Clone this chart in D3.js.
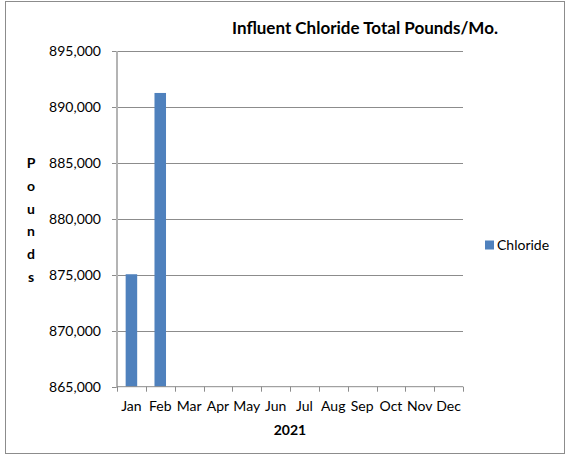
<!DOCTYPE html>
<html>
<head>
<meta charset="utf-8">
<script src="https://cdn.jsdelivr.net/npm/d3@7"></script>
<style>
  body { margin: 0; background: #fff; }
  svg text { font-family: Lato, "Open Sans", sans-serif; fill: #000; }
</style>
</head>
<body>
<div id="chart"></div>
<script>
const months = ['Jan', 'Feb', 'Mar', 'Apr', 'May', 'Jun', 'Jul', 'Aug', 'Sep', 'Oct', 'Nov', 'Dec'];
const chloride = [875050, 891250, null, null, null, null, null, null, null, null, null, null];
const yTicks = [865000, 870000, 875000, 880000, 885000, 890000, 895000];
const title = 'Influent Chloride Total Pounds/Mo.';
const xTitle = '2021';
const yTitle = 'Pounds';
const seriesName = 'Chloride';

const w = 586, h = 455;
const pl = 117, pr = 463, pt = 51, pb = 386.7;

const svg = d3.select('#chart').append('svg')
  .attr('width', w)
  .attr('height', h);

// outer border
svg.append('rect')
  .attr('x', 5.5).attr('y', 1.5)
  .attr('width', 559).attr('height', 452)
  .attr('fill', 'none')
  .attr('stroke', '#8c8c8c')
  .attr('stroke-width', 1);

const x = d3.scaleBand()
  .domain(months)
  .range([pl, pr])
  .paddingInner(0.6)
  .paddingOuter(0.3);

const xTicksScale = d3.scaleBand().domain(months).range([pl, pr]);

const y = d3.scaleLinear()
  .domain([865000, 895000])
  .range([pb, pt]);

// gridlines
svg.append('g')
  .selectAll('line')
  .data(yTicks.slice(1))
  .enter()
  .append('line')
  .attr('x1', pl).attr('x2', pr)
  .attr('y1', d => Math.round(y(d)) + 0.5)
  .attr('y2', d => Math.round(y(d)) + 0.5)
  .attr('stroke', '#8c8c8c');

// bars
svg.append('g')
  .selectAll('rect')
  .data(months.map((m, i) => ({ m: m, v: chloride[i] })).filter(d => d.v != null))
  .enter()
  .append('rect')
  .attr('x', d => x(d.m))
  .attr('width', x.bandwidth())
  .attr('y', d => y(d.v))
  .attr('height', d => pb - y(d.v))
  .attr('fill', '#4f81bd');

// y axis
const yA = d3.axisLeft(y)
  .tickValues(yTicks)
  .tickSize(5)
  .tickPadding(11)
  .tickFormat(d3.format(','));

const yG = svg.append('g')
  .attr('transform', 'translate(' + pl + ',0)')
  .call(yA);
yG.select('.domain').remove();
yG.selectAll('.tick line').attr('stroke', '#8c8c8c');
yG.selectAll('.tick').attr('transform', d => 'translate(0,' + (Math.round(y(d)) + 0.5) + ')');
yG.selectAll('text').style('font-size', '14px').style('font-family', 'Lato, sans-serif');
yG.append('line')
  .attr('x1', 0).attr('x2', 0)
  .attr('y1', pt).attr('y2', pb + 1)
  .attr('stroke', '#b4b4b4')
  .attr('stroke-width', 2);

// x axis
const xA = d3.axisBottom(xTicksScale)
  .tickSize(0)
  .tickPadding(14);

const xG = svg.append('g')
  .attr('transform', 'translate(0,' + pb + ')')
  .call(xA);
xG.select('.domain').remove();
xG.selectAll('text').style('font-size', '14px').style('font-family', 'Lato, sans-serif');
xG.append('line')
  .attr('x1', pl).attr('x2', pr)
  .attr('y1', 0).attr('y2', 0)
  .attr('stroke', '#8c8c8c');
xG.selectAll('.sep')
  .data(months.concat(['end']))
  .enter()
  .append('line')
  .attr('class', 'sep')
  .attr('x1', (d, i) => Math.round(pl + i * xTicksScale.step()) + 0.5)
  .attr('x2', (d, i) => Math.round(pl + i * xTicksScale.step()) + 0.5)
  .attr('y1', 0).attr('y2', 5)
  .attr('stroke', '#8c8c8c');

// title
svg.append('text')
  .attr('x', 365).attr('y', 34)
  .attr('text-anchor', 'middle')
  .style('font-size', '17px')
  .style('font-weight', 'bold')
  .text(title);

// x title
svg.append('text')
  .attr('x', 290).attr('y', 435)
  .attr('text-anchor', 'middle')
  .style('font-size', '14px')
  .style('font-weight', 'bold')
  .text(xTitle);

// y title, stacked letters
svg.append('g')
  .selectAll('text')
  .data(yTitle.split(''))
  .enter()
  .append('text')
  .attr('x', 31)
  .attr('y', (d, i) => 168 + i * 22.8)
  .attr('text-anchor', 'middle')
  .style('font-size', '14px')
  .style('font-weight', 'bold')
  .text(d => d);

// legend
const legend = svg.append('g').attr('transform', 'translate(485,240.5)');
legend.append('rect')
  .attr('width', 9).attr('height', 9)
  .attr('fill', '#4f81bd');
legend.append('text')
  .attr('x', 12).attr('y', 9)
  .style('font-size', '14px')
  .text(seriesName);
</script>
</body>
</html>
